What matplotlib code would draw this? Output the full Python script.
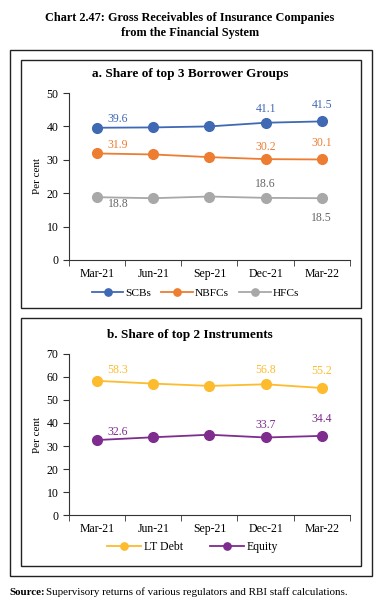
import matplotlib.pyplot as plt
from matplotlib.patches import Rectangle

# Quarters on the x axis
quarters = ['Mar-21', 'Jun-21', 'Sep-21', 'Dec-21', 'Mar-22']

# Panel a: share of top 3 borrower groups (per cent)
scbs = [39.6, 39.7, 40.0, 41.1, 41.5]
nbfcs = [31.9, 31.6, 30.8, 30.2, 30.1]
hfcs = [18.8, 18.5, 19.0, 18.6, 18.5]

# Panel b: share of top 2 instruments (per cent)
lt_debt = [58.3, 57.1, 56.1, 56.8, 55.2]
equity = [32.6, 33.8, 34.9, 33.7, 34.4]

plt.rcParams['font.family'] = ['Liberation Serif', 'DejaVu Serif']

fig = plt.figure(figsize=(3.8, 6.06), dpi=100)

# Outer frame and the two panel frames
fig.patches.append(Rectangle((0.026, 0.0495), 0.953, 0.868, transform=fig.transFigure,
                             fill=False, edgecolor='#222222', linewidth=1.0))
fig.patches.append(Rectangle((0.055, 0.492), 0.895, 0.409, transform=fig.transFigure,
                             fill=False, edgecolor='#222222', linewidth=1.0))
fig.patches.append(Rectangle((0.055, 0.066), 0.895, 0.409, transform=fig.transFigure,
                             fill=False, edgecolor='#222222', linewidth=1.0))

fig.text(0.5, 0.958, 'Chart 2.47: Gross Receivables of Insurance Companies\nfrom the Financial System',
         ha='center', va='center', fontsize=8.8, fontweight='bold', linespacing=1.3)
fig.text(0.5, 0.878, 'a. Share of top 3 Borrower Groups', ha='center', va='center',
         fontsize=9.5, fontweight='bold')
fig.text(0.5, 0.447, 'b. Share of top 2 Instruments', ha='center', va='center',
         fontsize=9.5, fontweight='bold')
fig.text(0.026, 0.023, 'Source:', ha='left', va='center', fontsize=7.9, fontweight='bold')
fig.text(0.121, 0.023, 'Supervisory returns of various regulators and RBI staff calculations.',
         ha='left', va='center', fontsize=7.9)


def styleAxes(ax, ymax):
    # Only left and bottom spines, ticks between categories on x
    x = range(len(quarters))
    ax.set_xlim(-0.5, len(quarters) - 0.5)
    ax.set_ylim(0, ymax)
    ax.set_yticks(range(0, ymax + 1, 10))
    ax.set_xticks(list(x))
    ax.set_xticklabels(quarters, fontsize=8.5)
    ax.set_xticks([i - 0.5 for i in range(len(quarters) + 1)], minor=True)
    ax.tick_params(axis='x', which='major', length=0, pad=6)
    ax.tick_params(axis='x', which='minor', length=4, color='#333333')
    ax.tick_params(axis='y', length=4, labelsize=8.5, color='#333333')
    for side in ['top', 'right']:
        ax.spines[side].set_visible(False)
    for side in ['left', 'bottom']:
        ax.spines[side].set_color('#333333')
    ax.set_ylabel('Per cent', fontsize=8, labelpad=3)


def label(ax, i, values, color, dx, dy):
    ax.annotate(f'{values[i]:.1f}', (i, values[i]), xytext=(dx, dy), textcoords='offset points',
                ha='center', va='center', fontsize=8.5, color=color)


x = list(range(len(quarters)))

# Panel a
axA = fig.add_axes([0.1816, 0.571, 0.739, 0.2755])
styleAxes(axA, 50)
blue, orange, grey = '#4069B3', '#ED7D31', '#A8A8A8'
axA.plot(x, scbs, color=blue, marker='o', markersize=7, linewidth=1.3, label='SCBs')
axA.plot(x, nbfcs, color=orange, marker='o', markersize=7, linewidth=1.3, label='NBFCs')
axA.plot(x, hfcs, color=grey, marker='o', markersize=7, linewidth=1.3, label='HFCs')
label(axA, 0, scbs, blue, 15, 6)
label(axA, 3, scbs, blue, 0, 10)
label(axA, 4, scbs, blue, 0, 12)
label(axA, 0, nbfcs, orange, 15, 6)
label(axA, 3, nbfcs, orange, 0, 9)
label(axA, 4, nbfcs, orange, 0, 12)
label(axA, 0, hfcs, '#666666', 15, -5)
label(axA, 3, hfcs, '#666666', 0, 10)
label(axA, 4, hfcs, '#666666', 0, -14)
axA.legend(loc='center', bbox_to_anchor=(0.45, -0.2), ncol=3, frameon=False, fontsize=8.2,
           handlelength=2.8, columnspacing=0.9, handletextpad=0.15, markerscale=0.75)

# Panel b
axB = fig.add_axes([0.1816, 0.150, 0.739, 0.266])
styleAxes(axB, 70)
gold, purple = '#FDBB2E', '#7E2C8E'
axB.plot(x, lt_debt, color=gold, marker='o', markersize=7, linewidth=1.3, label='LT Debt')
axB.plot(x, equity, color=purple, marker='o', markersize=7, linewidth=1.3, label='Equity')
label(axB, 0, lt_debt, gold, 15, 8)
label(axB, 3, lt_debt, gold, 0, 10)
label(axB, 4, lt_debt, gold, 0, 12)
label(axB, 0, equity, purple, 15, 6)
label(axB, 3, equity, purple, 0, 9)
label(axB, 4, equity, purple, 0, 12)
axB.legend(loc='center', bbox_to_anchor=(0.44, -0.2), ncol=2, frameon=False, fontsize=8.5,
           handlelength=2.9, columnspacing=2.3, handletextpad=0.2, markerscale=0.75)

fig.savefig('out.png', dpi=100)
